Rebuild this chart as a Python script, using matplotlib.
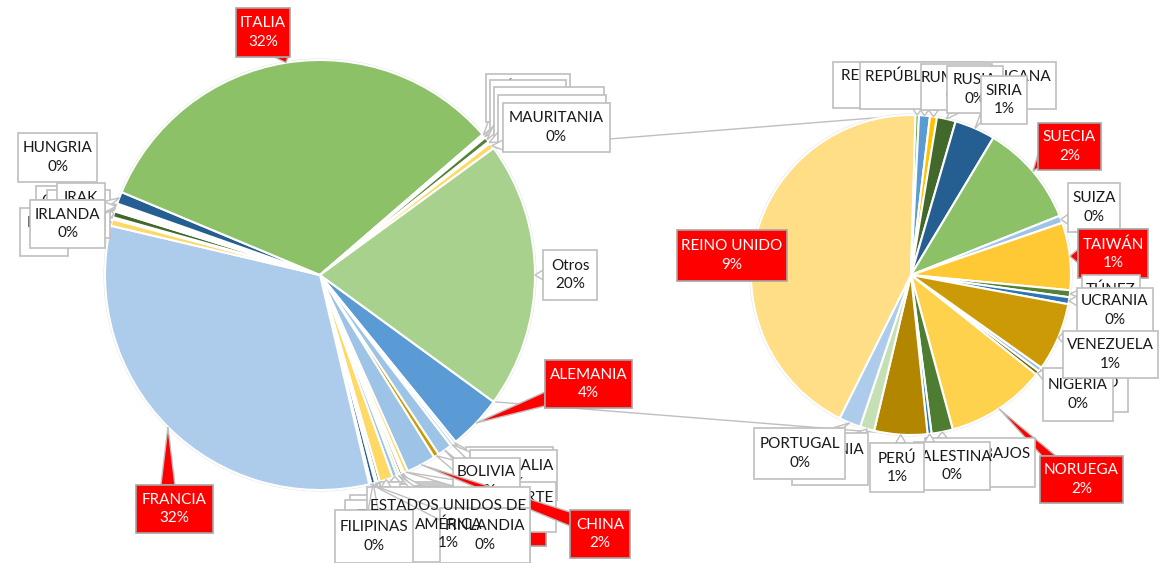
import numpy as np
import matplotlib
matplotlib.use("Agg")
import matplotlib.pyplot as plt
from matplotlib.patches import Rectangle, Polygon, Circle

# ---- data (share of total, %) ----
left_names = [
    "ALEMANIA", "ARGENTINA", "AUSTRALIA", "BÉLGICA", "BOLIVIA", "CHINA",
    "COREA DEL NORTE", "CUBA", "ECUADOR", "EGIPTO", "ESPAÑA",
    "ESTADOS UNIDOS DE AMÉRICA", "ESTONIA", "ETIOPÍA", "FILIPINAS", "FINLANDIA",
    "FRANCIA", "GRECIA", "HUNGRIA", "INDIA", "IRÁN", "IRAK", "IRLANDA",
    "ISLANDIA", "ISRAEL", "ITALIA", "LÍBANO", "LIBIA", "MALASIA", "MARRUECOS",
    "MAURITANIA",
]
left_values = [
    4.08, 0.2, 0.25, 1.1, 0.4, 2.2,
    0.3, 0.15, 0.2, 0.2, 0.35,
    1.0, 0.2, 0.15, 0.3, 0.15,
    32.2, 0.5, 0.15, 0.45, 0.15, 0.15, 0.15,
    0.15, 0.9, 32.2, 0.15, 0.15, 0.4, 0.15,
    0.45,
]
left_colors = [
    "#5B9BD5", "#9DC3E6", "#BDD7EE", "#9DC3E6", "#C99A06", "#9DC3E6",
    "#FFD966", "#43682B", "#7F6000", "#A9D18E", "#9DC3E6",
    "#FFD966", "#43682B", "#9DC3E6", "#255E91", "#ADCBEA",
    "#ADCBEA", "#FFD966", "#E2EFDA", "#43682B", "#E2EFDA", "#DEEBF7", "#E2EFDA",
    "#DEEBF7", "#255E91", "#8CC168", "#E2EFDA", "#E2EFDA", "#548235", "#E2EFDA",
    "#FFD966",
]
others_name = "Otros"
others_color = "#A9D18E"

sec_names = [
    "MÉXICO", "NIGERIA", "NORUEGA", "PAÍSES BAJOS", "PALESTINA", "PERÚ",
    "POLONIA", "PORTUGAL", "REINO UNIDO", "REPÚBLICA CHECA",
    "REPÚBLICA DOMINICANA", "RUMANIA", "RUSIA", "SIRIA", "SUECIA", "SUIZA",
    "TAIWÁN", "TÚNEZ", "UCRANIA", "VENEZUELA",
]
sec_values = [
    0.09, 0.08, 2.02, 0.43, 0.08, 1.07,
    0.29, 0.44, 8.61, 0.07,
    0.22, 0.14, 0.38, 0.82, 2.07, 0.15,
    1.36, 0.14, 0.14, 1.38,
]
sec_colors = [
    "#9DC3E6", "#7F6000", "#FFD24D", "#4E7D32", "#2E75B6", "#B38600",
    "#C5E0B4", "#ADCBEA", "#FFDE85", "#70AD47",
    "#5B9BD5", "#FFC000", "#43682B", "#255E91", "#8CC168", "#9DC3E6",
    "#FFC935", "#548235", "#2E75B6", "#CC9A06",
]

red_labels = {"ITALIA", "FRANCIA", "ALEMANIA", "CHINA", "BÉLGICA",
              "REINO UNIDO", "SUECIA", "TAIWÁN", "NORUEGA"}
wrapped = {"ESTADOS UNIDOS DE AMÉRICA": "ESTADOS UNIDOS DE\nAMÉRICA"}
right_aligned = {"COREA DEL NORTE"}

# ---- layout (image pixel coords: left, top, right, bottom, z) ----
H = 563
L_CENTER, L_R = (320, 275), 215
R_CENTER, R_R = (911, 275), 160
SEC_START = -35.4

boxes = {
    # left pie, top right group
    "LÍBANO": (486, 74, 570, 122, 12), "LIBIA": (490, 80, 566, 128, 13),
    "MALASIA": (494, 87, 604, 136, 14), "MARRUECOS": (498, 95, 606, 144, 15),
    "MAURITANIA": (503, 103, 610, 152, 16),
    "Otros": (543, 250, 597, 300, 12),
    "ALEMANIA": (545, 360, 632, 408, 12),
    # bottom group
    "ARGENTINA": (466, 447, 553, 497, 12), "AUSTRALIA": (470, 450, 557, 500, 13),
    "ESPAÑA": (380, 482, 450, 528, 14), "CUBA": (400, 484, 470, 530, 15),
    "ECUADOR": (410, 486, 485, 532, 16), "EGIPTO": (420, 488, 495, 536, 17),
    "ESTONIA": (350, 495, 420, 545, 18), "ETIOPÍA": (345, 500, 425, 550, 19),
    "BÉLGICA": (488, 500, 546, 546, 20), "COREA DEL NORTE": (480, 482, 556, 532, 21),
    "BOLIVIA": (453, 458, 520, 505, 22), "CHINA": (570, 510, 630, 558, 23),
    "ESTADOS UNIDOS DE AMÉRICA": (367, 487, 530, 562, 30),
    "FINLANDIA": (440, 508, 530, 563, 31), "FILIPINAS": (335, 510, 413, 563, 32),
    "FRANCIA": (136, 485, 213, 533, 12),
    # left group
    "HUNGRIA": (18, 133, 97, 182, 11),
    "GRECIA": (36, 186, 100, 234, 12), "INDIA": (47, 190, 110, 238, 13),
    "IRÁN": (20, 208, 68, 256, 14), "IRAK": (57, 183, 105, 232, 15),
    "ISLANDIA": (34, 200, 100, 246, 16), "ISRAEL": (32, 200, 102, 247, 17),
    "IRLANDA": (30, 200, 105, 248, 18),
    "ITALIA": (236, 8, 290, 57, 12),
    # secondary pie
    "REPÚBLICA CHECA": (833, 62, 985, 108, 12),
    "REPÚBLICA DOMINICANA": (860, 62, 1056, 109, 13),
    "RUMANIA": (921, 64, 992, 110, 14), "RUSIA": (947, 66, 1003, 113, 15),
    "SIRIA": (981, 76, 1027, 124, 16), "SUECIA": (1038, 123, 1101, 170, 17),
    "SUIZA": (1068, 183, 1120, 232, 18), "TAIWÁN": (1078, 229, 1148, 278, 19),
    "TÚNEZ": (1082, 275, 1140, 322, 20), "UCRANIA": (1077, 288, 1153, 333, 21),
    "MÉXICO": (1050, 372, 1128, 412, 22), "NIGERIA": (1043, 368, 1113, 421, 23),
    "VENEZUELA": (1063, 331, 1158, 378, 24), "NORUEGA": (1040, 456, 1123, 503, 25),
    "PAÍSES BAJOS": (925, 438, 1035, 487, 26), "PALESTINA": (914, 442, 990, 490, 27),
    "PERÚ": (870, 443, 924, 492, 28), "POLONIA": (792, 433, 868, 485, 29),
    "PORTUGAL": (754, 428, 845, 479, 30), "REINO UNIDO": (677, 230, 787, 281, 31),
}
text_z_override = {"ESTADOS UNIDOS DE AMÉRICA": 33}

plt.rcParams["font.family"] = ["Lato", "DejaVu Sans"]

fig = plt.figure(figsize=(11.66, 5.63), dpi=100)
ax = fig.add_axes([0, 0, 1, 1])


def Y(y):
    return H - y


total = sum(left_values) + sum(sec_values)
others_value = sum(sec_values)
others_deg = others_value / total * 360

lw = dict(edgecolor="white", linewidth=1.5)
left_wedges, _ = ax.pie(left_values + [others_value],
                        colors=left_colors + [others_color],
                        startangle=-others_deg / 2, counterclock=False,
                        center=(L_CENTER[0], Y(L_CENTER[1])), radius=L_R,
                        wedgeprops=lw, frame=False)
sec_wedges, _ = ax.pie(sec_values, colors=sec_colors,
                       startangle=SEC_START, counterclock=False,
                       center=(R_CENTER[0], Y(R_CENTER[1])), radius=R_R,
                       wedgeprops=lw, frame=False)

for (cx, cy), r in [(L_CENTER, L_R), (R_CENTER, R_R)]:
    ax.add_patch(Circle((cx, Y(cy)), r + 0.8, fill=False, ec="#E3E3E3", lw=1, zorder=0.9))

# connector lines between the two pies
ow = left_wedges[-1]
for ang, sign in [(ow.theta2, 1), (ow.theta1, -1)]:
    x0 = ow.center[0] + L_R * np.cos(np.radians(ang))
    y0 = ow.center[1] + L_R * np.sin(np.radians(ang))
    ax.plot([x0, R_CENTER[0]], [y0, Y(R_CENTER[1]) + sign * R_R],
            color="#BFBFBF", lw=1, zorder=0.8)


def anchor_of(w):
    mid = np.radians((w.theta1 + w.theta2) / 2)
    return (w.center[0] + w.r * np.cos(mid), H - (w.center[1] + w.r * np.sin(mid)))


def draw_label(name, pct, anchor):
    l, t, r, b, z = boxes[name]
    red = name in red_labels
    face = "#FF0000" if red else "white"
    ax_, ay_ = anchor
    inside = l <= ax_ <= r and t <= ay_ <= b
    if not inside:
        dx_out = max(l - ax_, ax_ - r, 0)
        dy_out = max(t - ay_, ay_ - b, 0)
        hw = 7 if red else 5
        if dx_out >= dy_out:
            ex = l if ax_ < l else r
            ey = np.clip(ay_, t + hw + 2, b - hw - 2)
            base = [(ex, ey - hw), (ex, ey + hw)]
        else:
            ey = t if ay_ < t else b
            ex = np.clip(ax_, l + hw + 2, r - hw - 2)
            base = [(ex - hw, ey), (ex + hw, ey)]
        pts = [(base[0][0], Y(base[0][1])), (ax_, Y(ay_)), (base[1][0], Y(base[1][1]))]
        ax.add_patch(Polygon(pts, closed=True, fc=face, ec="#BFBFBF", lw=1, zorder=z))
    ax.add_patch(Rectangle((l, Y(b)), r - l, b - t, fc=face,
                           ec="#A6A6A6" if red else "#BFBFBF", lw=1.2, zorder=z + 0.1))
    label = f"{wrapped.get(name, name)}\n{pct}%"
    if name in right_aligned:
        tx, ha, ma = r - 3, "right", "left"
    else:
        tx, ha, ma = (l + r) / 2, "center", "center"
    ax.text(tx, Y((t + b) / 2), label, ha=ha, va="center", multialignment=ma,
            fontsize=11, linespacing=1.4, color="white" if red else "#1A1A1A",
            zorder=text_z_override.get(name, z + 0.2))


for name, v, w in zip(left_names + [others_name], left_values + [others_value], left_wedges):
    draw_label(name, int(v / total * 100 + 0.5), anchor_of(w))
for name, v, w in zip(sec_names, sec_values, sec_wedges):
    draw_label(name, int(v / total * 100 + 0.5), anchor_of(w))

ax.set_xlim(0, 1166)
ax.set_ylim(0, H)
ax.set_aspect("equal")
ax.axis("off")

fig.savefig("out.png", dpi=100, facecolor="white")
